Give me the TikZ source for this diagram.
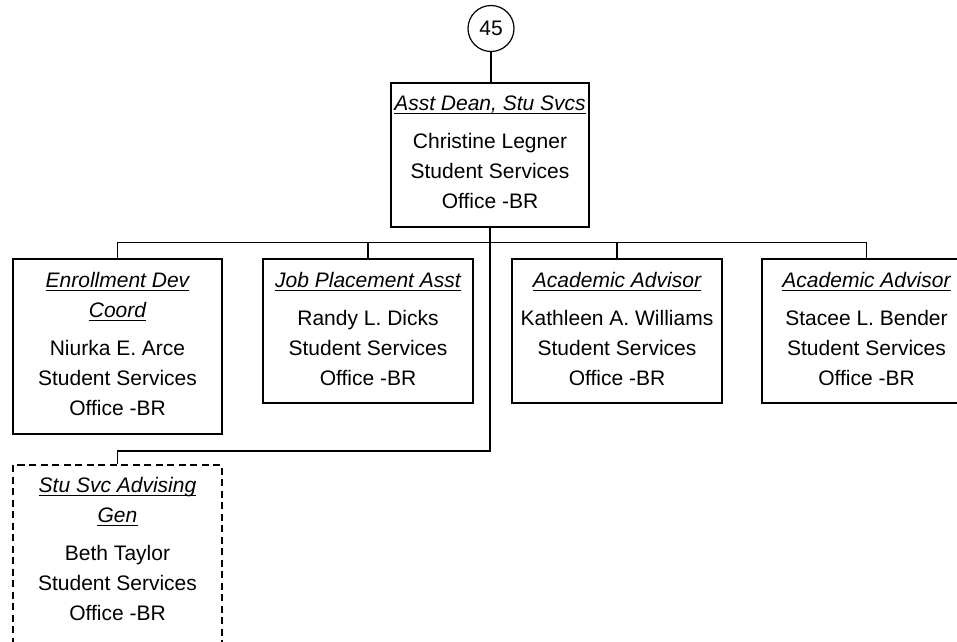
\documentclass[tikz,border=0pt]{standalone}
\usepackage{fontspec}
\setmainfont{Liberation Sans}
\begin{document}
\begin{tikzpicture}[x=1pt,y=-1pt,
  every node/.style={font=\fontsize{21}{25}\selectfont},
  box/.style={draw, line width=1.4pt, inner sep=0pt, rectangle},
  dbox/.style={box, dash pattern=on 7pt off 4.5pt},
  ttl/.style={anchor=base, inner sep=0pt, font=\fontsize{21}{25}\selectfont\itshape},
  txt/.style={anchor=base, inner sep=0pt},
  conn/.style={line width=1.4pt},
  uline/.style={line width=1.4pt}]
\path[use as bounding box] (0,0) rectangle (957,641);
\clip (0,0) rectangle (957,641);

% top node
\node[draw, circle, line width=1.2pt, minimum size=46pt, inner sep=0pt] (circ) at (491,28.5) {45};
\node[box, minimum width=198pt, minimum height=144pt] (top) at (490,155) {};
\node[ttl] (t0) at (490,110) {Asst Dean, Stu Svcs};
\node[txt] (t0a) at (490,148) {Christine Legner};
\node[txt] (t0b) at (490,178) {Student Services};
\node[txt] (t0c) at (490,208) {Office -BR};

% box 1
\node[box, minimum width=209pt, minimum height=175pt] (b1) at (117.5,346.5) {};
\node[ttl] (t1) at (117.5,287) {Enrollment Dev\ };
\node[ttl] (t1x) at (117.5,317) {Coord};
\node[txt] (t1a) at (117.5,355) {Niurka E. Arce};
\node[txt] (t1b) at (117.5,385) {Student Services};
\node[txt] (t1c) at (117.5,415) {Office -BR};

% box 2
\node[box, minimum width=210pt, minimum height=144pt] (b2) at (368,331) {};
\node[ttl] (t2) at (368,287) {Job Placement Asst};
\node[txt] (t2a) at (368,325) {Randy L. Dicks};
\node[txt] (t2b) at (368,355) {Student Services};
\node[txt] (t2c) at (368,385) {Office -BR};

% box 3
\node[box, minimum width=210pt, minimum height=144pt] (b3) at (617,331) {};
\node[ttl] (t3) at (617,287) {Academic Advisor};
\node[txt] (t3a) at (617,325) {Kathleen A. Williams};
\node[txt] (t3b) at (617,355) {Student Services};
\node[txt] (t3c) at (617,385) {Office -BR};

% box 4
\node[box, minimum width=209pt, minimum height=144pt] (b4) at (866.5,331) {};
\node[ttl] (t4) at (866.5,287) {Academic Advisor};
\node[txt] (t4a) at (866.5,325) {Stacee L. Bender};
\node[txt] (t4b) at (866.5,355) {Student Services};
\node[txt] (t4c) at (866.5,385) {Office -BR};

% dashed box
\node[dbox, minimum width=209pt, minimum height=180pt] (b5) at (117.5,555) {};
\node[ttl] (t5) at (117.5,492) {Stu Svc Advising\ };
\node[ttl] (t5x) at (117.5,522) {Gen};
\node[txt] (t5a) at (117.5,560) {Beth Taylor};
\node[txt] (t5b) at (117.5,590) {Student Services};
\node[txt] (t5c) at (117.5,620) {Office -BR};

% underlines
\foreach \n in {t0,t1,t1x,t2,t3,t4,t5,t5x}{
  \draw[uline] ([yshift=-3.5pt]\n.base west) -- ([yshift=-3.5pt]\n.base east);
}

% connectors
\coordinate (low) at (0,451);
\draw[conn] (circ.south) -- (circ.south |- top.north);
\draw[conn] (b1.north) -- ++(0,-16) -| (b4.north);
\draw[conn] (b2.north) -- ++(0,-16);
\draw[conn] (b3.north) -- ++(0,-16);
\draw[conn] (top.south) -- (top.south |- low) -| (b5.north);
\end{tikzpicture}
\end{document}
